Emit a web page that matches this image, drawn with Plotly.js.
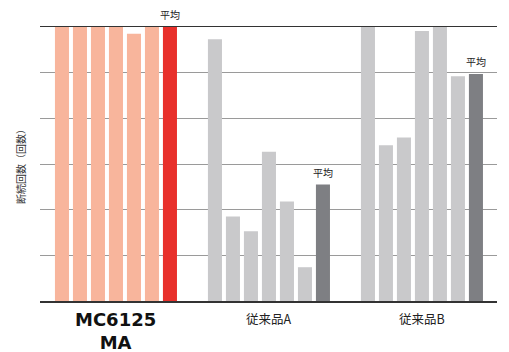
<!DOCTYPE html>
<html>
<head>
<meta charset="utf-8">
<script src="https://cdn.plot.ly/plotly-3.0.1.min.js"></script>
<style>html,body{margin:0;padding:0;background:#fff;}#chart{width:509px;height:352px;}</style>
</head>
<body>
<div id="chart"></div>
<script>
// Data (y scale: 0..6 gridline units)
const groups = ["MC6125<br>MA", "従来品A", "従来品B"];
const mcValues = [6, 6, 6, 6, 5.85, 6];
const mcAverage = 6;
const aValues = [5.73, 1.85, 1.53, 3.27, 2.18, 0.74];
const aAverage = 2.55;
const bValues = [6, 3.41, 3.58, 5.91, 6, 4.92];
const bAverage = 4.97;
const averageLabel = "平均";
const yTitle = "断続回数（回数）";

const series = [
  {vals: mcValues, avg: mcAverage, c: "#F8B59C", ac: "#E8302B"},
  {vals: aValues, avg: aAverage, c: "#C9C9CB", ac: "#7E7F83"},
  {vals: bValues, avg: bAverage, c: "#C9C9CB", ac: "#7E7F83"}
];
const groupStep = 8.5;
const traces = [];
const annotations = [];
const tickvals = [];
series.forEach((s, g) => {
  const base = g * groupStep;
  const xs = s.vals.map((v, i) => base + i);
  const n = s.vals.length;
  traces.push({type: "bar", x: xs, y: s.vals, width: 0.78,
    marker: {color: s.c, line: {width: 0}}, hoverinfo: "none"});
  traces.push({type: "bar", x: [base + n], y: [s.avg], width: 0.78,
    marker: {color: s.ac, line: {width: 0}}, hoverinfo: "none"});
  annotations.push({x: base + n, y: s.avg, xref: "x", yref: "y", text: averageLabel,
    showarrow: false, yanchor: "bottom", yshift: 3,
    font: {family: "Noto Sans CJK JP", size: 10, color: "#222"}});
  tickvals.push(base + n / 2);
});

// group labels
annotations.push({x: tickvals[0], y: 0, xref: "x", yref: "paper", yanchor: "top", yshift: -6,
  text: "<b>" + groups[0] + "</b>", showarrow: false,
  font: {family: "DejaVu Sans", size: 18, color: "#111"}});
for (let g = 1; g < groups.length; g++) {
  annotations.push({x: tickvals[g], y: 0, xref: "x", yref: "paper", yanchor: "top", yshift: -6,
    text: groups[g], showarrow: false,
    font: {family: "Noto Sans CJK JP", size: 12.5, color: "#222"}});
}

const layout = {
  width: 509, height: 352,
  margin: {l: 40, r: 12, t: 27, b: 51},
  paper_bgcolor: "#fff", plot_bgcolor: "#fff",
  showlegend: false,
  barmode: "overlay",
  xaxis: {range: [-1.22, 24.17], showticklabels: false, ticks: "", showgrid: false,
    zeroline: false, showline: true, mirror: true, linecolor: "#333", linewidth: 1.5, fixedrange: true},
  yaxis: {range: [0, 6], dtick: 1, showticklabels: false, ticks: "", showgrid: true,
    gridcolor: "#9a9a9a", gridwidth: 1, zeroline: false, showline: false, fixedrange: true,
    title: {text: yTitle, standoff: 11, font: {family: "Noto Sans CJK JP", size: 10, color: "#333"}}},
  annotations: annotations
};
Plotly.newPlot("chart", traces, layout, {displayModeBar: false, staticPlot: true});
</script>
</body>
</html>
